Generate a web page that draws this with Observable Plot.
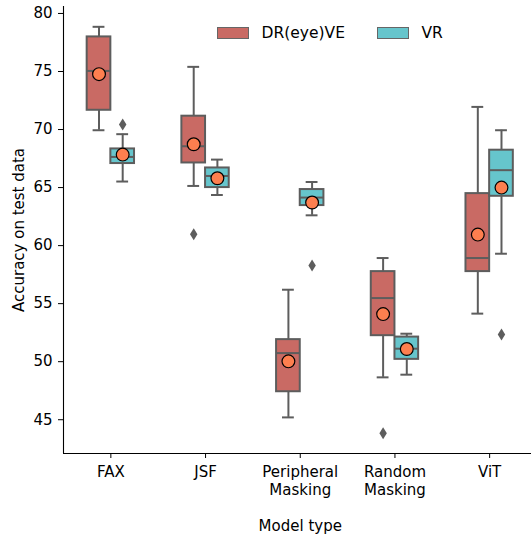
<!DOCTYPE html>
<html>
<head>
<meta charset="utf-8">
<script src="https://cdn.jsdelivr.net/npm/d3@7"></script>
<script src="https://cdn.jsdelivr.net/npm/@observablehq/plot@0.6"></script>
<style>
  html, body { margin: 0; padding: 0; background: white; }
  #wrap { position: relative; width: 531px; height: 535px; font-family: "DejaVu Sans", sans-serif; }
  #legend { position: absolute; left: 217px; top: 24px; display: flex; align-items: center; font-size: 15.5px; color: #000; }
  .sw { width: 32px; height: 12px; box-sizing: border-box; border: 1.5px solid #666666; }
  .lab { margin-left: 12.5px; }
</style>
</head>
<body>
<div id="wrap"><div id="legend"></div></div>
<script>
// ---- data ----
const categories = ["FAX", "JSF", "Peripheral\nMasking", "Random\nMasking", "ViT"];
const series = ["DR(eye)VE", "VR"];
const seriesColors = ["#c96a64", "#66c5cc"];

const drLow    = [69.94, 65.14, 45.20, 48.65, 54.14];
const drQ1     = [71.66, 67.12, 47.41, 52.24, 57.76];
const drMedian = [75.05, 68.56, 50.74, 55.48, 58.93];
const drQ3     = [77.98, 71.15, 51.90, 57.76, 64.48];
const drHigh   = [78.85, 75.40, 56.20, 58.93, 71.95];
const drMean   = [74.77, 68.73, 50.03, 54.10, 60.95];
const drOutliers = [[], [60.97], [], [43.84], []];

const vrLow    = [65.52, 64.36, 62.61, 48.88, 59.30];
const vrQ1     = [67.07, 65.00, 63.45, 50.20, 64.25];
const vrMedian = [67.64, 66.00, 64.14, 51.12, 66.50];
const vrQ3     = [68.33, 66.69, 64.83, 52.12, 68.22];
const vrHigh   = [69.60, 67.41, 65.48, 52.41, 69.94];
const vrMean   = [67.84, 65.80, 63.71, 51.09, 65.00];
const vrOutliers = [[70.43], [], [58.28], [], [52.35]];

const yTicks = [45, 50, 55, 60, 65, 70, 75, 80];
const yDomain = [42.09, 80.6];
const yLabel = "Accuracy on test data";
const xLabel = "Model type";

// ---- build table ----
const stats = [
  {low: drLow, q1: drQ1, med: drMedian, q3: drQ3, high: drHigh, mean: drMean, out: drOutliers},
  {low: vrLow, q1: vrQ1, med: vrMedian, q3: vrQ3, high: vrHigh, mean: vrMean, out: vrOutliers}
];
const boxHalf = 0.125, capHalf = 0.0625;
const xDomain = [-0.5, categories.length - 0.5];
const boxes = [];
const outliers = [];
categories.forEach((c, i) => {
  series.forEach((s, j) => {
    const st = stats[j];
    const pos = i + (j === 0 ? -boxHalf : boxHalf);
    boxes.push({series: s, pos, low: st.low[i], q1: st.q1[i], med: st.med[i], q3: st.q3[i], high: st.high[i], mean: st.mean[i]});
    st.out[i].forEach(v => outliers.push({series: s, pos, value: v}));
  });
});

const gray = "#5d5d5d";
const thinDiamond = {
  draw(context, size) {
    const r = Math.sqrt(size / Math.PI);
    const w = r * 0.62;
    context.moveTo(0, -r);
    context.lineTo(w, 0);
    context.lineTo(0, r);
    context.lineTo(-w, 0);
    context.closePath();
  }
};

const chart = Plot.plot({
  width: 531,
  height: 535,
  marginLeft: 63,
  marginRight: 0,
  marginTop: 6,
  marginBottom: 82,
  style: {fontFamily: "DejaVu Sans, sans-serif", fontSize: "15px", background: "white", color: "black"},
  x: {domain: xDomain, range: [63, 536.5]},
  y: {domain: yDomain},
  color: {domain: series, range: seriesColors},
  marks: [
    Plot.axisY({ticks: yTicks, tickSize: 5, tickPadding: 6, label: null, fontSize: 15}),
    Plot.axisX({ticks: d3.range(categories.length), tickFormat: i => categories[i], tickSize: 5, tickPadding: 5, lineHeight: 1.22, label: null, fontSize: 15}),
    // spines
    Plot.ruleY([yDomain[0]], {stroke: "black", strokeWidth: 1.1}),
    Plot.ruleX([xDomain[0]], {stroke: "black", strokeWidth: 1.1}),
    Plot.text([yLabel], {frameAnchor: "left", text: d => d, rotate: -90, dx: -44.5, fontSize: 15, textAnchor: "middle", lineAnchor: "middle"}),
    Plot.text([xLabel], {x: () => (categories.length - 1) / 2, frameAnchor: "bottom", text: d => d, dy: 73, fontSize: 15, lineAnchor: "middle"}),
    // whiskers
    Plot.ruleX(boxes, {x: "pos", y1: "q3", y2: "high", stroke: gray, strokeWidth: 2}),
    Plot.ruleX(boxes, {x: "pos", y1: "low", y2: "q1", stroke: gray, strokeWidth: 2}),
    Plot.ruleY(boxes, {y: "high", x1: d => d.pos - capHalf, x2: d => d.pos + capHalf, stroke: gray, strokeWidth: 2}),
    Plot.ruleY(boxes, {y: "low", x1: d => d.pos - capHalf, x2: d => d.pos + capHalf, stroke: gray, strokeWidth: 2}),
    // boxes
    Plot.rect(boxes, {x1: d => d.pos - boxHalf, x2: d => d.pos + boxHalf, y1: "q1", y2: "q3", fill: "series", stroke: gray, strokeWidth: 2}),
    Plot.ruleY(boxes, {y: "med", x1: d => d.pos - boxHalf, x2: d => d.pos + boxHalf, stroke: gray, strokeWidth: 2}),
    // outliers
    Plot.dot(outliers, {x: "pos", y: "value", r: 6, symbol: thinDiamond, fill: gray, stroke: "none"}),
    // means
    Plot.dot(boxes, {x: "pos", y: "mean", r: 6.4, fill: "#fd7f4f", stroke: "black", strokeWidth: 1.2})
  ]
});

document.getElementById("wrap").prepend(chart);

const legend = document.getElementById("legend");
series.forEach((s, j) => {
  const sw = document.createElement("div");
  sw.className = "sw";
  sw.style.background = seriesColors[j];
  if (j > 0) sw.style.marginLeft = "32px";
  const lab = document.createElement("span");
  lab.className = "lab";
  lab.textContent = s;
  legend.append(sw, lab);
});
</script>
</body>
</html>
